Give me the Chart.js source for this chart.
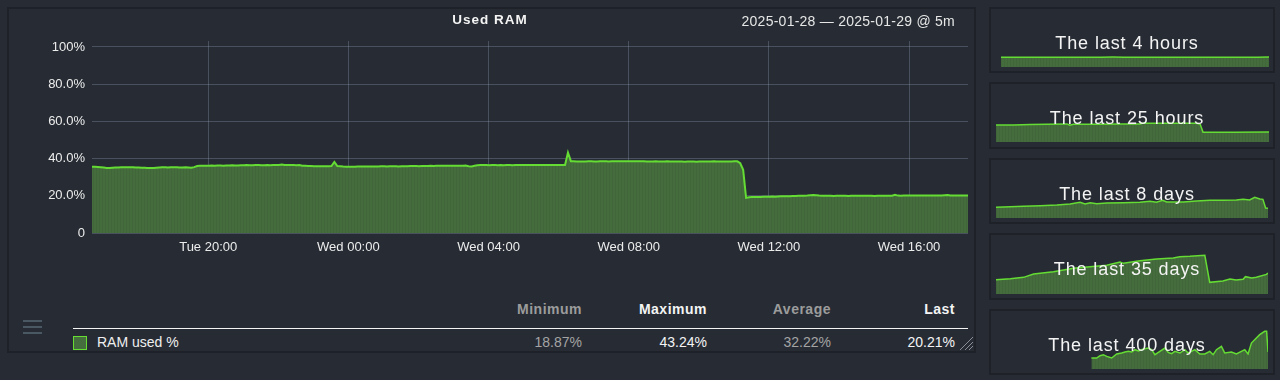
<!DOCTYPE html>
<html><head><meta charset="utf-8">
<script src="https://cdn.jsdelivr.net/npm/chart.js@4.4.1/dist/chart.umd.min.js"></script>
<style>
html,body{margin:0;padding:0;background:#272c34;width:1280px;height:380px;overflow:hidden;font-family:"Liberation Sans",Arial,Helvetica,sans-serif;}
.abs{position:absolute;}
.panel{position:absolute;border:2px solid #1e2228;box-sizing:border-box;}
.txt{position:absolute;white-space:nowrap;}
.spt{position:absolute;left:989px;width:276px;text-align:center;color:#f4f4f4;font-size:18px;letter-spacing:0.9px;line-height:22px;white-space:nowrap;z-index:5;}
.hb{position:absolute;left:23px;width:19px;height:2px;background:#4a5864;}
</style>
</head><body>
<div class="panel" style="left:7px;top:7px;width:969px;height:346px;"></div>
<div class="panel" style="left:989px;top:7px;width:286px;height:66px;"></div>
<div class="panel" style="left:989px;top:82px;width:286px;height:67px;"></div>
<div class="panel" style="left:989px;top:158px;width:286px;height:66px;"></div>
<div class="panel" style="left:989px;top:233px;width:286px;height:67px;"></div>
<div class="panel" style="left:989px;top:309px;width:286px;height:66px;"></div>

<canvas id="main" class="abs" style="left:0;top:0;" width="980" height="265"></canvas>
<div class="txt" style="left:390px;width:200px;top:12px;line-height:16px;text-align:center;font-weight:bold;font-size:13.5px;letter-spacing:1px;color:#f4f4f4;">Used RAM</div>
<div class="txt" style="left:655px;width:300px;top:13px;line-height:16px;text-align:right;font-size:14px;letter-spacing:0.25px;color:#e6e6e6;">2025-01-28 — 2025-01-29 @ 5m</div>

<div class="hb" style="top:320px;"></div>
<div class="hb" style="top:326px;"></div>
<div class="hb" style="top:332px;"></div>

<div id="legend"></div>
<div class="abs" style="left:73px;top:327.5px;width:895px;height:1.5px;background:#f4f4f4;"></div>
<div class="abs" style="left:73px;top:335.5px;width:14px;height:14px;box-sizing:border-box;border:1.5px solid #66dd33;background:#466d3d;"></div>
<div class="txt" style="left:97px;top:334px;line-height:16px;font-size:14px;color:#efefef;">RAM used %</div>
<svg class="abs" style="left:958px;top:336px;" width="16" height="15"><line x1="2" y1="14" x2="15" y2="1" stroke="#8a8f96" stroke-width="1"/><line x1="7" y1="14" x2="15" y2="6" stroke="#8a8f96" stroke-width="1"/><line x1="11" y1="14" x2="15" y2="10" stroke="#8a8f96" stroke-width="1"/></svg>

<canvas id="s1" class="abs" style="left:1001px;top:18px;" width="268" height="49"></canvas>
<canvas id="s2" class="abs" style="left:996px;top:93px;" width="273" height="49"></canvas>
<canvas id="s3" class="abs" style="left:996px;top:169px;" width="272" height="49"></canvas>
<canvas id="s4" class="abs" style="left:996px;top:245px;" width="272" height="49"></canvas>
<canvas id="s5" class="abs" style="left:996px;top:320px;" width="272" height="49"></canvas>
<div class="spt" style="top:32px;">The last 4 hours</div>
<div class="spt" style="top:107px;">The last 25 hours</div>
<div class="spt" style="top:183px;">The last 8 days</div>
<div class="spt" style="top:258px;">The last 35 days</div>
<div class="spt" style="top:334px;">The last 400 days</div>

<script>
// ---- main series: RAM used %, 5-minute samples from Tue 16:41 ----
const stepMinutes = 5;
const ramUsed = [
 35.6,35.6,35.5,35.4,35.2,35.0,35.0,35.1,35.2,35.2,35.3,35.3,
 35.4,35.4,35.3,35.2,35.2,35.1,35.1,35.0,35.0,35.0,35.1,35.2,
 35.3,35.3,35.2,35.3,35.4,35.3,35.2,35.2,35.3,35.2,35.1,35.4,
 36.0,36.1,36.1,36.2,36.2,36.3,36.2,36.3,36.3,36.2,36.3,36.3,
 36.4,36.3,36.3,36.4,36.4,36.5,36.4,36.4,36.5,36.5,36.4,36.4,
 36.5,36.4,36.5,36.6,36.6,36.8,36.6,36.5,36.5,36.6,36.4,36.6,
 36.2,36.1,36.0,36.0,35.9,35.9,35.9,35.9,35.9,35.9,36.0,38.2,
 36.0,35.9,35.7,35.6,35.6,35.6,35.6,35.7,35.7,35.7,35.8,35.7,
 35.7,35.8,35.8,35.9,35.9,35.8,35.9,35.9,35.9,35.8,35.9,35.9,
 35.9,36.0,36.0,36.0,35.9,36.0,36.0,36.0,36.1,36.0,36.1,36.1,
 36.1,36.2,36.1,36.2,36.2,36.1,36.2,36.2,36.3,35.9,35.8,36.1,
 36.4,36.5,36.5,36.5,36.4,36.5,36.5,36.4,36.5,36.4,36.5,36.5,
 36.4,36.5,36.5,36.6,36.5,36.5,36.6,36.6,36.5,36.6,36.6,36.5,
 36.6,36.5,36.6,36.5,36.5,36.6,36.6,43.24,38.6,38.5,38.4,38.4,
 38.4,38.4,38.5,38.5,38.4,38.4,38.5,38.5,38.5,38.4,38.5,38.5,
 38.5,38.6,38.5,38.5,38.5,38.5,38.6,38.5,38.5,38.5,38.4,38.4,
 38.4,38.5,38.4,38.4,38.4,38.5,38.4,38.4,38.4,38.4,38.4,38.3,
 38.4,38.4,38.4,38.3,38.4,38.4,38.4,38.4,38.4,38.5,38.4,38.4,
 38.4,38.4,38.4,38.4,38.5,38.5,37.5,34.0,18.87,19.2,19.3,19.3,
 19.4,19.4,19.5,19.5,19.5,19.6,19.5,19.6,19.7,19.8,19.8,19.8,
 19.9,19.9,20.0,20.0,20.0,20.1,20.3,20.4,20.3,20.1,20.0,20.0,
 20.0,20.0,19.9,20.0,20.0,20.0,20.0,19.9,20.0,20.0,20.0,20.0,
 20.0,20.0,20.0,20.0,19.9,20.0,20.0,20.0,20.0,20.0,20.0,20.5,
 20.1,20.0,20.1,20.1,20.1,20.1,20.1,20.2,20.2,20.1,20.2,20.2,
 20.2,20.2,20.2,20.2,20.3,20.4,20.2,20.2,20.2,20.2,20.2,20.2,
 20.21
];
const xTickMinutes = [199, 439, 679, 919, 1159, 1399];
const xTickLabels = ['Tue 20:00','Wed 00:00','Wed 04:00','Wed 08:00','Wed 12:00','Wed 16:00'];
const yTickValues = [0, 20, 40, 60, 80, 100];
const yTickLabels = ['0','20.0%','40.0%','60.0%','80.0%','100%'];

// ---- legend table ----
const statHeaders = ['Minimum','Maximum','Average','Last'];
const statValues = ['18.87%','43.24%','32.22%','20.21%'];

// ---- sparklines (RAM used %, 0-100 scale) ----
const s4hX = [0,10,20,30,40,50,60,70,80,90,100,110,120,130,140,150,160,170,180,190,200,210,220,230,240];
const s4hY = [19.8,19.8,19.9,19.9,19.9,20.0,20.0,20.0,20.1,20.1,20.3,20.1,20.0,20.0,20.0,20.0,20.1,20.0,20.0,20.0,20.0,20.0,20.1,20.1,20.3];
const s25hX = [0,1.62,3.14,4.67,6.5,6.75,7.1,9.25,11.4,13.2,13.5,13.8,15.7,18.4,18.7,18.96,19.9,21.8,25];
const s25hY = [34.9,34.9,35.5,36.2,36.9,34.2,36.2,36.2,36.9,36.9,39.0,38.3,38.3,38.3,36.2,19.8,19.8,19.8,20.5];
const s8dX = [0,0.42,0.81,1.3,1.79,2.18,2.47,2.62,2.77,2.96,3.26,3.75,4.23,4.53,4.72,4.9,5.02,5.51,5.9,6.29,6.68,7.07,7.27,7.46,7.61,7.76,7.85,7.93,8];
const s8dY = [21.8,23.1,23.8,25.2,26.5,28.6,32.0,28.6,31.3,29.2,30.6,31.3,32.0,34.0,32.0,36.0,32.6,32.6,34.7,36.0,36.0,36.7,38.1,36.7,42.2,38.8,38.1,20.4,19.7];
const s35dX = [0,1.84,3.55,4.84,7.4,9.97,12.1,14.25,15.96,16.39,18.53,20.67,22.8,23.66,24.95,26.87,27.5,29.2,30.1,30.9,31.8,32.1,32.9,33.5,34.8,35];
const s35dY = [29.2,31.2,34.0,40.8,45.6,52.4,55.8,58.5,65.3,62.6,68.0,71.4,73.4,76.2,76.8,78.9,23.8,26.5,30.6,28.6,29.9,35.4,32.6,34.0,40.1,42.8];
const s400dX = [140.3,148.1,153,157.9,162.8,170.1,177.5,184.8,189.7,194.6,199.5,204.4,209.3,216.6,223.9,228.8,233.7,241,248.4,253.3,258.2,263.1,270.4,277.7,282.6,287.5,292.4,299.7,307.1,314.4,319.3,324.2,331.5,336.4,346.2,353.5,360.9,365.8,370.7,375.6,380.4,387.8,395.1,398,400];
const s400dY = [22.4,22.4,27.2,29.2,25.8,22.4,30.6,32.6,34.7,36.0,34.7,39.4,36.7,40.8,42.8,39.4,29.2,36.0,42.8,34.0,31.3,36.0,32.6,39.4,32.6,36.0,39.4,30.6,30.6,36.0,29.2,39.4,46.2,32.6,34.7,30.6,36.0,39.4,30.6,53.0,59.8,70.0,76.8,76.8,34.7];

// ---- styling ----
const LINE = '#64dc33';
const FONT = '"Liberation Sans", Arial, Helvetica, sans-serif';
function stripes(){
  const c = document.createElement('canvas'); c.width = 3; c.height = 4;
  const g = c.getContext('2d');
  g.fillStyle = '#456c3c'; g.fillRect(0,0,3,4);
  g.fillStyle = '#40663a'; g.fillRect(0,0,1,4);
  return g.createPattern(c,'repeat');
}
const FILL = stripes();

// legend table text
(function(){
  const rights = [582, 707, 831, 955];
  const hdrColors = ['#9c9c9c','#f4f4f4','#9c9c9c','#f4f4f4'];
  const valColors = ['#a4a4a4','#f4f4f4','#a4a4a4','#f4f4f4'];
  const box = document.getElementById('legend');
  statHeaders.forEach((h,i)=>{
    const d = document.createElement('div');
    d.className = 'txt';
    d.style.cssText = `left:${rights[i]-200}px;width:200px;top:301px;line-height:16px;text-align:right;font-weight:bold;font-size:14px;letter-spacing:0.5px;color:${hdrColors[i]};`;
    d.textContent = h; box.appendChild(d);
    const v = document.createElement('div');
    v.className = 'txt';
    v.style.cssText = `left:${rights[i]-200}px;width:200px;top:334px;line-height:16px;text-align:right;font-size:14px;color:${valColors[i]};`;
    v.textContent = statValues[i]; box.appendChild(v);
  });
})();

Chart.defaults.font.family = FONT;

new Chart(document.getElementById('main'), {
  type: 'line',
  data: {
    datasets: [{
      label: 'RAM used %',
      data: ramUsed.map((v,i)=>({x: i*stepMinutes, y: v})),
      borderColor: LINE, borderWidth: 2, backgroundColor: FILL,
      fill: 'origin', pointRadius: 0, tension: 0
    }]
  },
  options: {
    responsive: false, animation: false,
    layout: { padding: { top: 41, right: 12, left: 0, bottom: 0 } },
    plugins: { legend: { display: false }, tooltip: { enabled: false } },
    scales: {
      x: {
        type: 'linear', min: 0, max: (ramUsed.length-1)*stepMinutes, z: 1,
        afterFit: s => { s.height = 32; },
        afterBuildTicks: s => { s.ticks = xTickMinutes.map(v=>({value:v})); },
        ticks: { callback: (v,i) => xTickLabels[i], color: '#ececec', font: { size: 13 }, padding: 7, maxRotation: 0, autoSkip: false },
        grid: { color: 'rgba(150,170,190,0.3)', drawTicks: false, lineWidth: 1 },
        border: { display: false }
      },
      y: {
        min: 0, max: 103.2, z: 1,
        afterFit: s => { s.width = 92; },
        afterBuildTicks: s => { s.ticks = yTickValues.map(v=>({value:v})); },
        ticks: { callback: (v,i) => yTickLabels[i], color: '#ececec', font: { size: 13 }, padding: 7 },
        grid: { color: 'rgba(150,170,190,0.3)', drawTicks: false, lineWidth: 1 },
        border: { display: false }
      }
    }
  }
});

function spark(id, xs, ys, xmin, xmax){
  new Chart(document.getElementById(id), {
    type: 'line',
    data: { datasets: [{ data: xs.map((x,i)=>({x:x, y:ys[i]})), borderColor: LINE, borderWidth: 1.5, backgroundColor: FILL, fill: 'origin', pointRadius: 0, tension: 0 }] },
    options: {
      responsive: false, animation: false,
      layout: { padding: 0 },
      plugins: { legend: { display: false }, tooltip: { enabled: false } },
      scales: {
        x: { type: 'linear', display: false, min: xmin, max: xmax },
        y: { display: false, min: 0, max: 100 }
      }
    }
  });
}
spark('s1', s4hX, s4hY, 0, 240);
spark('s2', s25hX, s25hY, 0, 25);
spark('s3', s8dX, s8dY, 0, 8);
spark('s4', s35dX, s35dY, 0, 35);
spark('s5', s400dX, s400dY, 0, 400);
</script>
</body></html>
